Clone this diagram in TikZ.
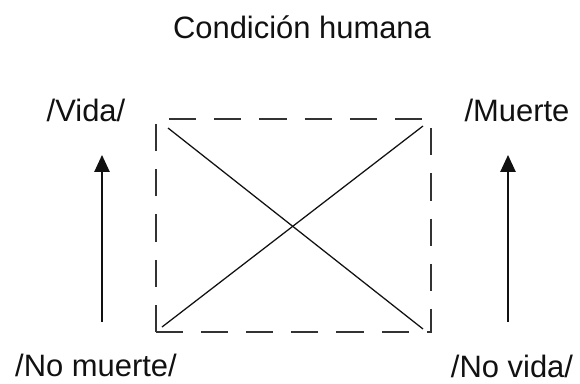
\documentclass[tikz,border=0pt]{standalone}
\usepackage{fontspec}
\setmainfont{Liberation Sans}
\usetikzlibrary{arrows.meta, positioning, calc}

\begin{document}
\begin{tikzpicture}[
    every node/.style={font=\fontsize{22}{26}\selectfont, inner sep=0pt},
]

\definecolor{ink}{HTML}{111111}
\definecolor{boxink}{HTML}{333333}

\tikzset{
  frame/.style={draw=boxink, line width=1.4pt,
                dash pattern=on 0.68cm off 0.45cm},
  cross/.style={draw=ink, line width=0.9pt},
  up/.style={-{Triangle[length=0.42cm, width=0.38cm]}, draw=ink,
             line width=1.0pt},
  lab/.style={anchor=base, text=ink},
}

% ---------------------------------------------------------------- canvas
\useasboundingbox (0, 0) rectangle (14.5, 9.575);

% ---------------------------------------------------------------- title
\node[lab] (title) at (7.55, 8.62) {Condición humana};

% ---------------------------------------------------------------- square
\coordinate (sw) at (3.9, 1.275);
\coordinate (ne) at (10.775, 6.6);
\draw[frame] (sw) rectangle (ne);

\coordinate (dsw) at (4.05, 1.4);
\coordinate (dne) at (10.575, 6.425);
\coordinate (dnw) at (4.2, 6.375);
\coordinate (dse) at (10.575, 1.35);
\draw[cross] (dnw) -- (dse);
\draw[cross] (dsw) -- (dne);

% ---------------------------------------------------------------- labels
\node[lab] (vida)    at (2.15, 6.55)   {/Vida/};
\node[lab] (muerte)  at (12.925, 6.55) {/Muerte};
\node[lab] (nomuer)  at (2.4, 0.16)    {/No muerte/};
\node[lab] (novida)  at (12.8, 0.15)   {/No vida/};

% ---------------------------------------------------------------- arrows
\coordinate (lfoot) at (2.55, 1.525);
\coordinate (ltip)  at (2.55, 5.7);
\coordinate (rfoot) at (12.7, 1.525);
\coordinate (rtip)  at (12.7, 5.7);
\draw[up] (lfoot) -- (ltip);
\draw[up] (rfoot) -- (rtip);

\end{tikzpicture}
\end{document}
